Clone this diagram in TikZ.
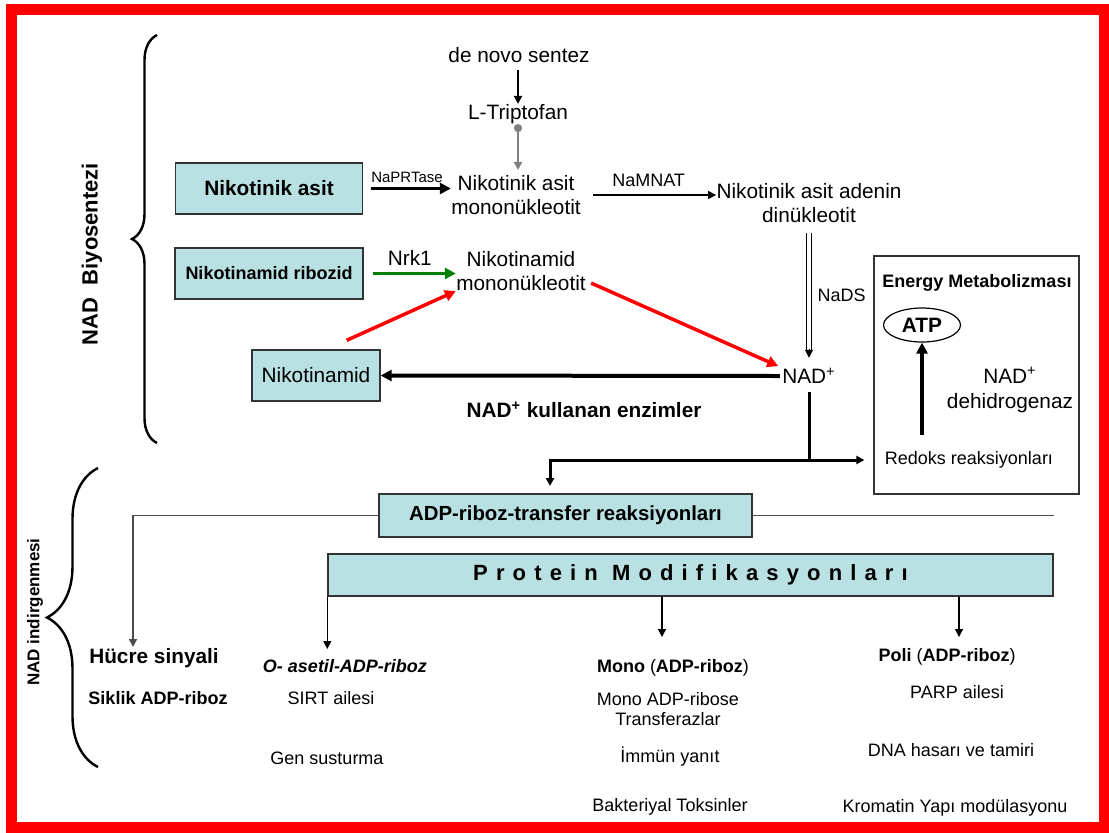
\documentclass[tikz,border=0pt]{standalone}
\usepackage{fontspec}
\setmainfont{Liberation Sans}
\usetikzlibrary{arrows.meta,calc,decorations.pathreplacing,shapes.geometric}
\definecolor{boxcyan}{RGB}{185,224,226}
\definecolor{darkgreen}{RGB}{0,128,0}

\begin{document}
\begin{tikzpicture}[x=0.5pt,y=-0.5pt,>={Triangle[length=4pt,width=4pt]},
	txt/.style = {inner sep=0pt, align=center, font=\fontsize{10.4}{12}\selectfont},
	sml/.style = {inner sep=0pt, align=center, font=\fontsize{9}{10.2}\selectfont},
	box/.style = {draw=black!80, line width=0.7pt, fill=boxcyan, inner sep=0pt, align=center},
	big/.style = {-{Triangle[length=5.5pt,width=5.5pt]}},
	curly/.style = {decorate, line width=1.2pt, decoration={brace, amplitude=#1}}
	]
	\fill[white] (0,0) rectangle (1109,832);
	\useasboundingbox (0,0) rectangle (1109,832);
	%Cerceve
	\draw[red, line width=5.5pt] (11,9) rectangle (1104,827);
	%Parantezler
	\draw[curly=12.5pt] (157,443) -- (157,35);
	\draw[curly=25.5pt] (98,767) -- (98,468);
	\node[rotate=90, inner sep=0pt, font=\bfseries\fontsize{11}{13}\selectfont] (biyo) at (92,254) {NAD\ \ Biyosentezi};
	\node[rotate=90, inner sep=0pt, font=\bfseries\fontsize{8.5}{10}\selectfont] (indir) at (35,612) {NAD indirgenmesi};
	%Biyosentez
	\node[txt] (denovo) at (519,55) {de novo sentez};
	\node[txt] (trp) at (518,114) {L-Triptofan};
	\node[txt] (namn) at (516,195) {Nikotinik asit\\mononükleotit};
	\node[txt] (naad) at (809,203) {Nikotinik asit adenin\\dinükleotit};
	\node[txt] (nmn) at (521,271) {Nikotinamid\\mononükleotit};
	\node[txt] (nad) at (809,376) {NAD\textsuperscript{+}};
	\node[box, minimum width=93.5pt, minimum height=25.5pt, font=\bfseries\fontsize{10.4}{12}\selectfont] (na) at (269,188.5) {Nikotinik asit};
	\node[box, minimum width=94pt, minimum height=25.5pt, font=\bfseries\fontsize{9}{11}\selectfont] (nr) at (269,273.5) {Nikotinamid ribozid};
	\node[box, minimum width=64pt, minimum height=25.5pt, font=\fontsize{10.4}{12}\selectfont] (nam) at (316,375.5) {Nikotinamid};
	\node[txt, font=\bfseries\fontsize{10.4}{12}\selectfont] (enz) at (584,410) {NAD\textsuperscript{+} kullanan enzimler};
	%Enerji
	\node[draw=black!80, line width=0.6pt, minimum width=102.5pt, minimum height=119pt, inner sep=0pt] (enbox) at (976.5,375) {};
	\node[sml, font=\bfseries\fontsize{9}{11}\selectfont] (entitle) at (977,283) {Energy Metabolizması};
	\node[ellipse, draw, line width=0.6pt, minimum width=38.5pt, minimum height=17pt, inner sep=0pt, font=\bfseries\fontsize{10.4}{12}\selectfont] (atp) at (922,325) {ATP};
	\node[txt, font=\fontsize{10.4}{12.5}\selectfont] (nadh) at (1010,390) {NAD\textsuperscript{+}\\dehidrogenaz};
	\node[sml] (redox) at (969,460) {Redoks reaksiyonları};
	%Indirgenme
	\node[box, minimum width=186.5pt, minimum height=21.5pt, font=\bfseries\fontsize{10.2}{12}\selectfont] (adp) at (565.5,515.5) {ADP-riboz-transfer reaksiyonları};
	\node[box, minimum width=362.5pt, minimum height=21pt, font=\bfseries\fontsize{11}{13}\selectfont\addfontfeature{LetterSpace=37}] (prot) at (690.5,575) {Protein Modifikasyonları};
	\node[txt, font=\bfseries\fontsize{10.4}{12}\selectfont] (hucre) at (154,658) {Hücre sinyali};
	\node[sml, font=\bfseries\fontsize{9}{11}\selectfont] (siklik) at (158,698) {Siklik ADP-riboz};
	\node[sml, font=\bfseries\itshape\fontsize{9}{11}\selectfont] (oasetil) at (345,666) {O- asetil-ADP-riboz};
	\node[sml] (sirt) at (331,698) {SIRT ailesi};
	\node[sml] (gen) at (327,758) {Gen susturma};
	\node[sml] (mono) at (673,668) {\textbf{Mono} (\textbf{ADP-riboz})};
	\node[sml] (monoadp) at (668,709) {Mono ADP-ribose\\Transferazlar};
	\node[sml] (immun) at (670,757) {İmmün yanıt};
	\node[sml] (bakt) at (670,807) {Bakteriyal Toksinler};
	\node[sml] (poli) at (947,657) {\textbf{Poli} (\textbf{ADP-riboz})};
	\node[sml] (parp) at (957,692) {PARP ailesi};
	\node[sml] (dna) at (951,750) {DNA hasarı ve tamiri};
	\node[sml] (krom) at (955,808) {Kromatin Yapı modülasyonu};
	%Oklar
	\draw[->, line width=1pt, shorten <=3.5pt] (trp.north |- denovo.south) -- (trp.north);
	\draw[{Circle[length=4pt]}->, gray, line width=1pt, shorten >=2.5pt] (trp.south) -- (trp.south |- namn.north);
	\draw[big, line width=1.75pt, shorten <=4pt] (na.east) -- (na.east -| namn.west) node[midway, above=2.3pt, inner sep=0pt, font=\fontsize{7.5}{9}\selectfont] (naprt) {NaPRTase};
	\draw[->, line width=0.6pt, shorten <=6pt] (namn.east) -- (namn.east -| naad.west) node[midway, above=3.8pt, sml] (namnat) {NaMNAT};
	\draw[big, darkgreen, line width=1.5pt, shorten <=4.5pt] (nr.east) -- (nr.east -| nmn.west) node[midway, above=3.5pt, txt, text=black] (nrk) {Nrk1};
	\draw[big, red, line width=1.75pt] ($(nam.north east)+(-34,-9)$) -- (nmn.south west);
	\draw[big, red, line width=1.75pt, shorten >=2pt] ($(nmn.south east)+(5,-8)$) -- (nad.north west);
	\draw[double, double distance=2pt, line width=0.5pt, shorten <=5pt, shorten >=9pt] (nad.north |- naad.south) -- (nad.north) node[midway, right=4pt, sml] (nads) {NaDS};
	\draw[->, line width=0.5pt, shorten >=5pt] ($(nad.north)+(0,-19)$) -- (nad.north);
	\draw[big, line width=2pt, shorten <=1pt] (nad.west) -- (nam.east);
	\coordinate (split) at (nad.south |- redox.west);
	\coordinate (adpin) at (550,486);
	\draw[line width=1.5pt, shorten <=3.75pt] (nad.south) -- (split);
	\draw[->, line width=1.5pt, shorten >=4.5pt] (split) -- (split -| enbox.west);
	\draw[->, line width=1.5pt] (split) -| (adpin);
	\draw[big, line width=2pt, shorten <=8pt] (atp.south |- redox.north) -- (atp.south);
	%Alt oklar
	\coordinate (hc) at (133,647);
	\coordinate (m1) at (662,637);
	\coordinate (p1) at (959,637);
	\draw[->, black!70, line width=0.75pt] (adp.west) -| (hc);
	\draw[black!70, line width=0.75pt] (adp.east) -- (adp.east -| prot.east);
	\draw[->, line width=0.6pt, shorten >=5pt] (prot.south west) -- (prot.south west |- oasetil.north);
	\draw[->, line width=0.6pt] (prot.south -| m1) -- (m1);
	\draw[->, line width=0.6pt] (prot.south -| p1) -- (p1);
\end{tikzpicture}
\end{document}
